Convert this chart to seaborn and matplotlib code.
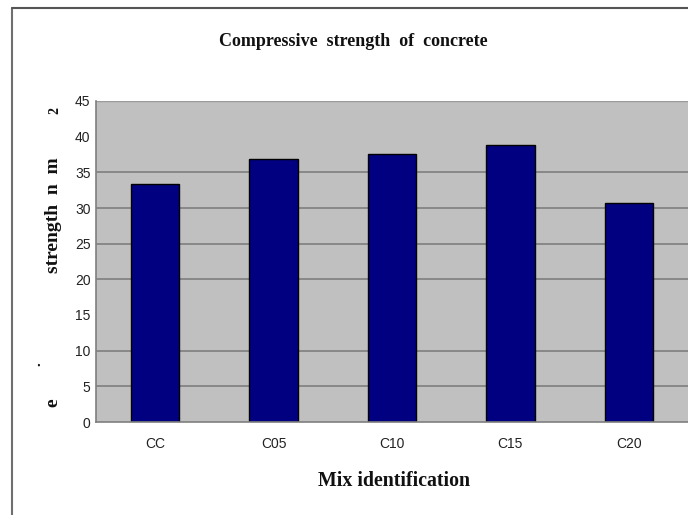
import seaborn as sns
import pandas as pd
import matplotlib.pyplot as plt
from matplotlib.lines import Line2D

# Datos
mixes = ["CC", "C05", "C10", "C15", "C20"]
strength = [33.3, 36.8, 37.6, 38.8, 30.7]
grid_values = [5, 10, 20, 25, 30, 35]
y_ticks = [0, 5, 10, 15, 20, 25, 30, 35, 40, 45]

dataframe = pd.DataFrame({"Mix": mixes, "Strength": strength})

sns.set_style("white")
fig = plt.figure(figsize=(6.88, 5.15), dpi=100)
ax = fig.add_axes([96 / 688, 93 / 515, 1 - 96 / 688, 321 / 515])
ax.set_facecolor("#c0c0c0")

# Lineas de la cuadricula (como aparecen en la imagen)
for g in grid_values:
    ax.axhline(g, color="#7f7f7f", linewidth=1.2, zorder=0)

sns.barplot(data=dataframe, x="Mix", y="Strength", color="#000080",
            saturation=1, width=0.41, edgecolor="black", linewidth=1,
            zorder=2, ax=ax)

ax.set_xlim(-0.5, len(mixes) - 0.5)
ax.set_ylim(0, 45)
ax.set_yticks(y_ticks)
ax.set_yticklabels([str(v) for v in y_ticks], fontsize=10,
                   family="Liberation Sans", color="#222222")
ax.set_xticks([i - 0.5 for i in range(1, len(mixes))], minor=True)
ax.set_xticks(range(len(mixes)))
ax.set_xticklabels(mixes, fontsize=10, family="Liberation Sans",
                   color="#222222")
ax.tick_params(axis="x", which="major", length=0, pad=11)
ax.tick_params(axis="x", which="minor", length=4, color="#7f7f7f",
               direction="out")
ax.tick_params(axis="y", length=3, color="#7f7f7f", direction="out", pad=1)

for side in ["top", "right"]:
    ax.spines[side].set_visible(False)
for side in ["left", "bottom"]:
    ax.spines[side].set_color("#7f7f7f")
    ax.spines[side].set_linewidth(1.2)
ax.axhline(45, color="#9a9a9a", linewidth=1, zorder=1)

ax.set_xlabel("")
ax.set_ylabel("")

serif = ["Liberation Serif", "DejaVu Serif"]
fig.text(353 / 688, 1 - 41 / 515, "Compressive  strength  of  concrete",
         ha="center", va="center", fontsize=13, fontweight="bold",
         family=serif, color="#111111")
fig.text(394 / 688, 1 - 481 / 515, "Mix identification", ha="center",
         va="center", fontsize=14.3, fontweight="bold", family=serif,
         color="#111111")
fig.text(54 / 688, 1 - 215 / 515, "strength  n  m", ha="center",
         va="center", rotation=90, fontsize=14, fontweight="bold",
         family=serif, color="#111111")
fig.text(55 / 688, 1 - 111 / 515, "2", ha="center", va="center",
         rotation=90, fontsize=10, fontweight="bold", family=serif,
         color="#111111")
fig.text(37 / 688, 1 - 364 / 515, ".", ha="center", va="center",
         rotation=90, fontsize=11, fontweight="bold", family=serif,
         color="#111111")
fig.text(53 / 688, 1 - 403 / 515, "e", ha="center", va="center",
         rotation=90, fontsize=14, fontweight="bold", family=serif,
         color="#111111")

# Marco exterior
fig.add_artist(Line2D([12 / 688, 12 / 688], [0, 1 - 8 / 515],
                      color="#6f6f6f", linewidth=1.5))
fig.add_artist(Line2D([12 / 688, 1], [1 - 8 / 515, 1 - 8 / 515],
                      color="#555555", linewidth=1.5))

fig.savefig("out.png", dpi=100)
